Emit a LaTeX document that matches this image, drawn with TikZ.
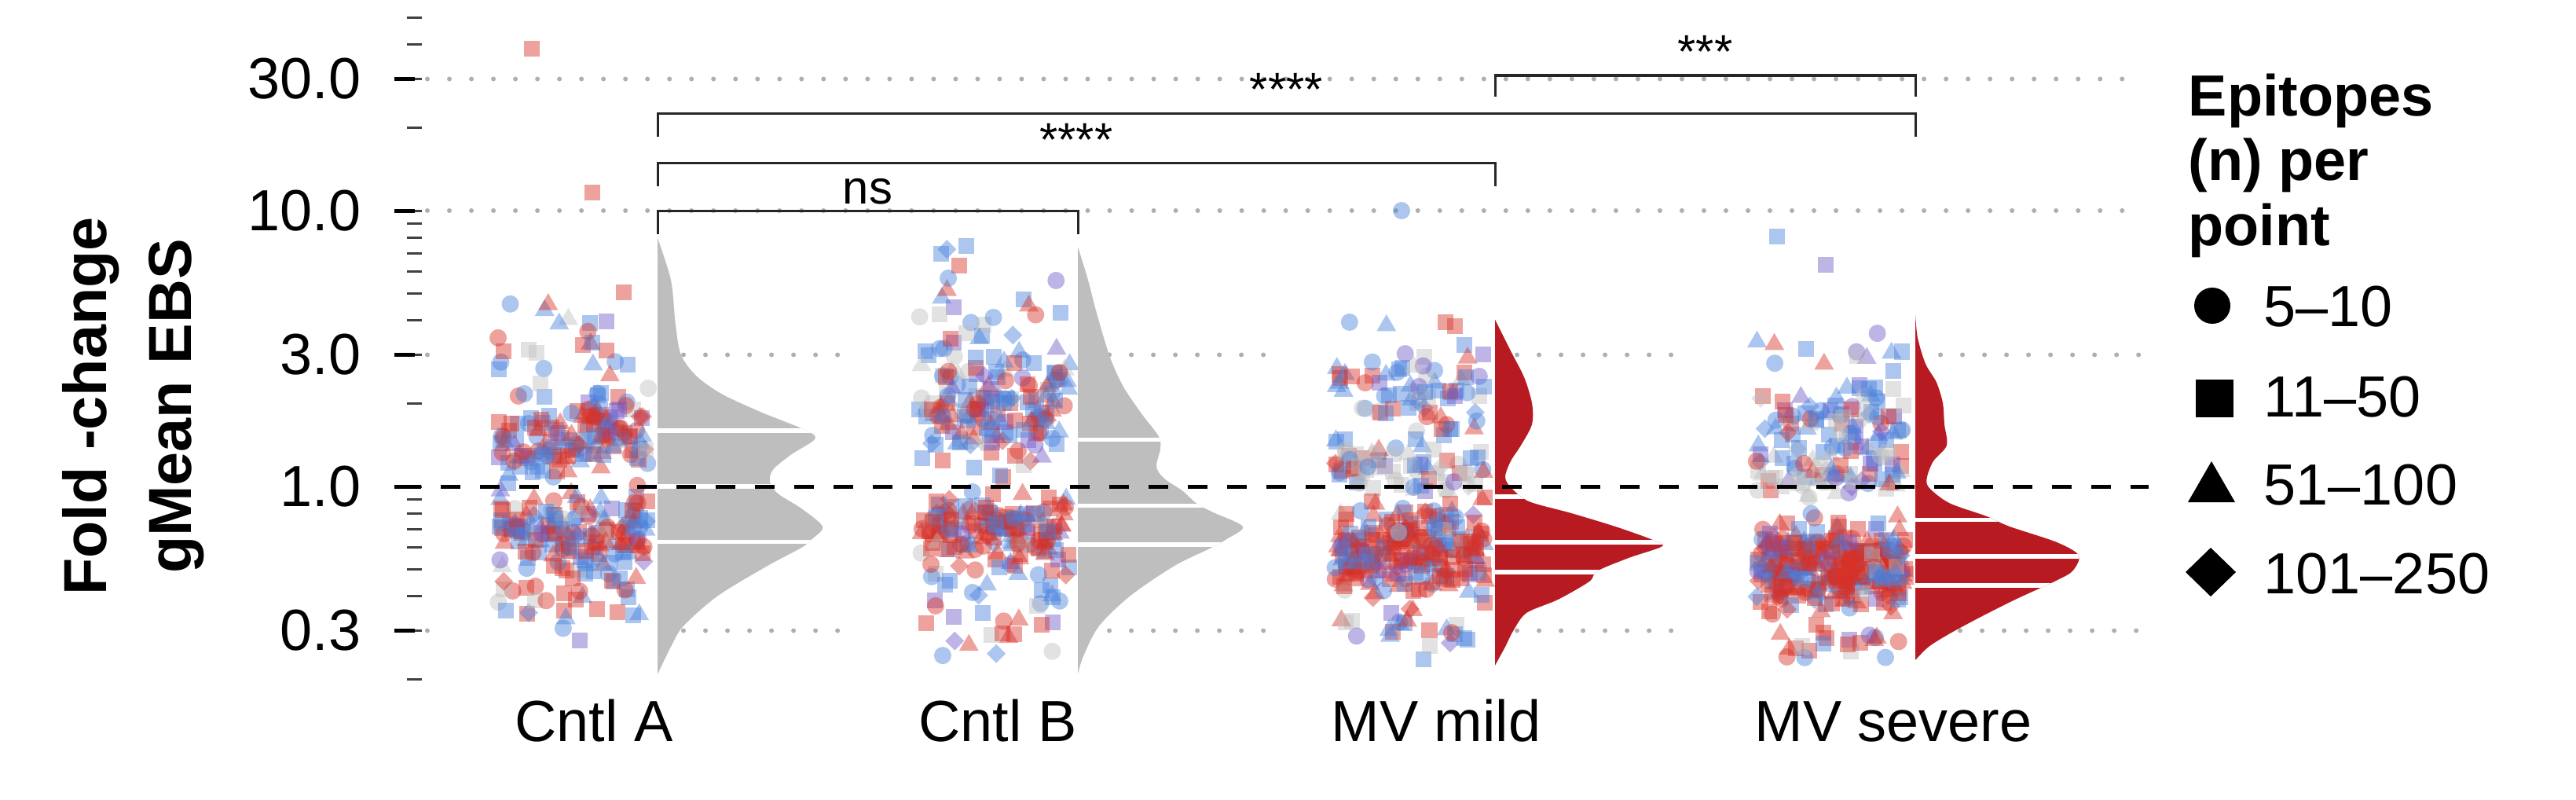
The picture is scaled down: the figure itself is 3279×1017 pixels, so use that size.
\documentclass[tikz,border=0pt]{standalone}
\usepackage{fontspec}
\setmainfont{Liberation Sans}
\usepackage{tikz}

\definecolor{ptred}{RGB}{215,48,39}
\definecolor{ptblue}{RGB}{72,128,220}
\definecolor{ptpurple}{RGB}{112,88,200}
\definecolor{ptgrey}{RGB}{190,190,190}
\definecolor{vgrey}{RGB}{190,190,190}
\definecolor{vred}{RGB}{183,27,33}
\definecolor{gridgrey}{RGB}{175,175,175}

\newcommand\ticksize{\fontsize{21}{25}\selectfont}
\newcommand\sigsize{\fontsize{17}{20}\selectfont}

\newcommand\epi[4]{%
  \ifcase#3\relax
    \fill[#4] (#1,#2) circle[radius=0.11cm];%
  \or
    \fill[#4] ([shift={(-0.1cm,-0.1cm)}]#1,#2) rectangle ++(0.2cm,0.2cm);%
  \or
    \fill[#4] ([shift={(0cm,0.13cm)}]#1,#2) -- ++(-0.125cm,-0.215cm) -- ++(0.25cm,0cm) -- cycle;%
  \or
    \fill[#4] ([shift={(0cm,0.12cm)}]#1,#2) -- ++(0.12cm,-0.12cm) -- ++(-0.12cm,-0.12cm) -- ++(-0.12cm,0.12cm) -- cycle;%
  \fi}

\newcommand\cloud[8]{%
  \foreach \k in {1,...,#2}{%
    \pgfmathsetmacro\px{#1+10+192*rnd}%
    \pgfmathsetmacro\pz{#5*rand+(1-#5)*(rand+rand+rand)}%
    \pgfmathsetmacro\py{398+351*(#3+#4*(\pz))}%
    \pgfmathsetmacro\pr{rnd}%
    \pgfmathtruncatemacro\pc{\pr<#6 ? 0 : (\pr<#6+#7 ? 1 : (\pr<#6+#7+#8 ? 3 : 2))}%
    \pgfmathsetmacro\pq{rnd}%
    \pgfmathtruncatemacro\ps{\pq<0.22 ? 0 : (\pq<0.72 ? 1 : (\pq<0.94 ? 2 : 3))}%
    \ifcase\pc\def\pcol{dotred}\or\def\pcol{dotblue}\or\def\pcol{dotpurple}\or\def\pcol{dotgrey}\fi
    \epi{\px}{\py}{\ps}{\pcol}%
  }}

\begin{document}
\begin{tikzpicture}[x=0.01cm,y=0.01cm]
\tikzstyle{every node}+=[inner sep=0pt]
\tikzstyle{dotred}=[fill=ptred,fill opacity=0.45]
\tikzstyle{dotblue}=[fill=ptblue,fill opacity=0.45]
\tikzstyle{dotpurple}=[fill=ptpurple,fill opacity=0.45]
\tikzstyle{dotgrey}=[fill=ptgrey,fill opacity=0.45]
\tikzstyle{gridline}=[draw=gridgrey,line width=0.06cm,line cap=round,dash pattern=on 0pt off 0.28cm]
\tikzstyle{qline}=[draw=white,line width=0.055cm]
\tikzstyle{sigbar}=[draw=black!85,line width=0.03cm]
\tikzstyle{siglabel}=[font=\sigsize,anchor=base]
\tikzstyle{ticklabel}=[font=\ticksize,anchor=east]
\tikzstyle{grplabel}=[font=\ticksize,anchor=base]
\tikzstyle{legtext}=[font=\ticksize,anchor=base west]
\useasboundingbox (0,0) rectangle (3279,1017);
\pgfmathsetseed{11}

\foreach \gy in {749,916.5}
  \draw[gridline] (544,\gy) -- (2725,\gy);
\foreach \gy/\gx in {565.5/2470,214.5/2495} {
  \draw[gridline] (544,\gy) -- (548,\gy);
  \draw[gridline] (870,\gy) -- (1082,\gy);
  \draw[gridline] (1412,\gy) -- (1613,\gy);
  \draw[gridline] (1931,\gy) -- (2148,\gy);
  \draw[gridline] (\gx,\gy) -- (2725,\gy);
}

\foreach \v in {0.2,0.3,0.4,0.5,0.6,0.7,0.8,0.9,1,2,3,4,5,6,7,8,9,10,20,30,40,50} {
  \pgfmathsetmacro\ty{398+351*log10(\v)}
  \draw[black!75,line width=0.03cm] (518,\ty) -- (537,\ty);
}
\foreach \v/\t [count=\i] in {0.3/0.3,1/1.0,3/3.0,10/10.0,30/30.0} {
  \pgfmathsetmacro\ty{398+351*log10(\v)}
  \draw[black,line width=0.05cm] (502,\ty) -- (528,\ty);
  \node[ticklabel] (ylab\i) at (460,\ty) {\t};
}
\node[rotate=90,align=center,font=\bfseries\fontsize{22}{30.7}\selectfont] (ytitle) at (170,500) {Fold -change\\gMean EBS};

\cloud{624}{70}{0.3}{0.2}{0}{0.25}{0.45}{0.18}
\cloud{624}{40}{-0.35}{0.1}{0}{0.35}{0.45}{0.1}
\cloud{624}{110}{0.18}{0.06}{0}{0.5}{0.35}{0.05}
\cloud{624}{150}{-0.17}{0.07}{0}{0.55}{0.33}{0.04}
\epi{677}{955}{1}{dotred}
\epi{754}{772}{1}{dotred}

\cloud{1160}{60}{0.5}{0.15}{0}{0.25}{0.45}{0.18}
\cloud{1160}{40}{-0.38}{0.12}{0}{0.35}{0.45}{0.1}
\cloud{1160}{130}{0.25}{0.09}{0}{0.4}{0.4}{0.08}
\cloud{1160}{150}{-0.17}{0.065}{0}{0.55}{0.33}{0.04}

\cloud{1689}{90}{0.3}{0.13}{0}{0.2}{0.55}{0.12}
\cloud{1689}{60}{0.05}{0.05}{0}{0.1}{0.2}{0.6}
\cloud{1689}{25}{-0.5}{0.06}{0}{0.4}{0.4}{0.1}
\cloud{1689}{240}{-0.24}{0.075}{0}{0.62}{0.3}{0.03}
\epi{1784}{749}{0}{dotblue}

\cloud{2224}{10}{0.5}{0.03}{0}{0.1}{0.6}{0.1}
\cloud{2224}{100}{0.22}{0.1}{0}{0.2}{0.55}{0.15}
\cloud{2224}{50}{0.03}{0.04}{0}{0.1}{0.2}{0.6}
\cloud{2224}{20}{-0.58}{0.03}{0}{0.5}{0.3}{0.1}
\cloud{2224}{320}{-0.29}{0.08}{0}{0.65}{0.28}{0.02}
\epi{2262}{716}{1}{dotblue}
\epi{2324}{680}{1}{dotpurple}

\begin{scope}
\clip plot[smooth] coordinates {(837,714) (854,660.5) (860,603) (867,565) (887,538) (920,515) (970,492) (1027,469) (1037,458) (1007,438.5) (984,419.4) (980,404) (990,389) (1020,370) (1047,347) (1034,331.3) (1020,320) (977,297) (914,259) (870,220.4) (854,194) (837,159)} -- cycle;
\fill[vgrey] (837,150) rectangle (1100,720);
\draw[qline] (837,469) -- (1100,469);
\draw[qline] (837,398) -- (1100,398);
\draw[qline] (837,327.5) -- (1100,327.5);
\end{scope}

\begin{scope}
\clip plot[smooth] coordinates {(1372,703) (1385,660.5) (1395,622) (1412,565) (1429,526.5) (1452,492) (1475,461.5) (1477,446) (1472,423) (1482,408) (1505,392.6) (1522,377.3) (1542,366) (1582,347) (1562,331.3) (1542,320) (1495,297) (1439,259) (1399,220.4) (1379,182) (1372,159)} -- cycle;
\fill[vgrey] (1372,150) rectangle (1640,710);
\draw[qline] (1372,457.6) -- (1640,457.6);
\draw[qline] (1372,373.4) -- (1640,373.4);
\draw[qline] (1372,324) -- (1640,324);
\end{scope}

\begin{scope}
\clip plot[smooth] coordinates {(1903,610.3) (1923,570.3) (1940,537) (1950,504) (1950,477) (1936,450.3) (1923,430.3) (1916,410.3) (1923,397) (1946,379) (2000,364) (2056,347) (2103,330.3) (2116,322) (2073,307) (2033,290.3) (2023,277) (1983,254) (1943,237) (1926,214) (1916,194) (1903,170.3)} -- cycle;
\fill[vred] (1903,160) rectangle (2140,620);
\draw[qline] (1903,385) -- (2140,385);
\draw[qline] (1903,327) -- (2140,327);
\draw[qline] (1903,289) -- (2140,289);
\end{scope}

\begin{scope}
\clip plot[smooth] coordinates {(2438,617) (2441,587) (2451,554) (2465,530.3) (2473,504) (2475,477) (2478,450.3) (2461,430.3) (2453,410.3) (2455,397) (2481,377) (2528,360.3) (2558,347) (2618,327) (2646,310.3) (2638,290.3) (2615,277) (2565,254) (2518,230.3) (2481,210.3) (2455,194) (2438,177)} -- cycle;
\fill[vred] (2438,160) rectangle (2680,625);
\draw[qline] (2438,355.3) -- (2680,355.3);
\draw[qline] (2438,309) -- (2680,309);
\draw[qline] (2438,272) -- (2680,272);
\end{scope}

\draw[black,line width=0.05cm,dash pattern=on 0.25cm off 0.25cm] (511,398) -- (2735,398);

\draw[sigbar] (837,719) -- (837,749) -- (1372,749) -- (1372,719);
\node[siglabel] (sigAB) at (1104.5,758) {ns};
\draw[sigbar] (837,780) -- (837,809.5) -- (1903,809.5) -- (1903,780);
\node[siglabel] (sigAM) at (1370,819) {****};
\draw[sigbar] (837,843) -- (837,873) -- (2438,873) -- (2438,843);
\node[siglabel] (sigAS) at (1637.5,883) {****};
\draw[sigbar] (1903,894) -- (1903,921) -- (2438,921) -- (2438,894);
\node[siglabel] (sigMS) at (2170.5,931) {***};

\node[grplabel] (cntlA) at (756,74) {Cntl A};
\node[grplabel] (cntlB) at (1270,74) {Cntl B};
\node[grplabel] (mvmild) at (1828,74) {MV mild};
\node[grplabel] (mvsevere) at (2410,74) {MV severe};

\node[anchor=north west,align=left,font=\bfseries\fontsize{21}{23.5}\selectfont] (legtitle) at (2785,924) {Epitopes\\(n) per\\point};
\fill[black] (2816,628) circle[radius=0.23cm];
\fill[black] (2795,486) rectangle (2843,534);
\fill[black] (2815,430) -- (2785,378) -- (2845,378) -- cycle;
\fill[black] (2782,289) -- (2814,320) -- (2846,289) -- (2814,258) -- cycle;
\node[legtext] (leg1) at (2881,602) {5–10};
\node[legtext] (leg2) at (2881,487) {11–50};
\node[legtext] (leg3) at (2881,375) {51–100};
\node[legtext] (leg4) at (2881,262) {101–250};
\end{tikzpicture}
\end{document}
